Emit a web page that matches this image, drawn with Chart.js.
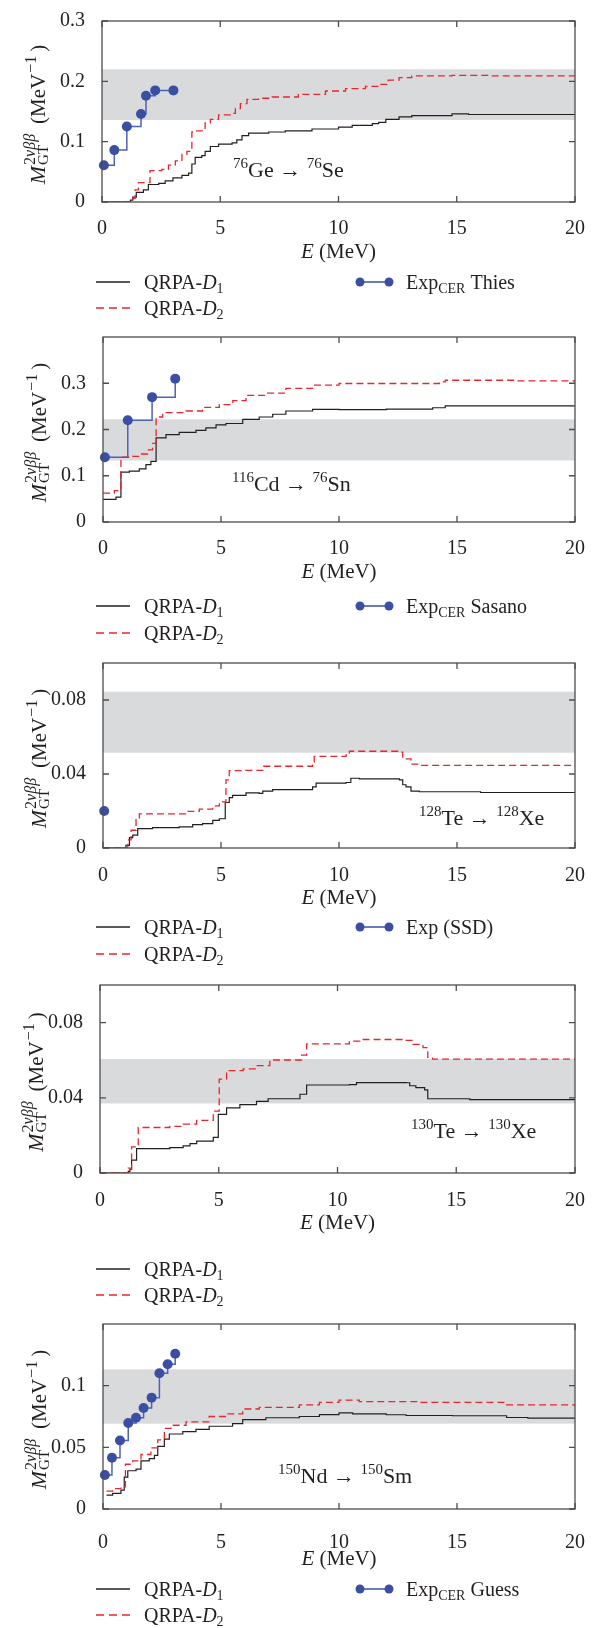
<!DOCTYPE html>
<html>
<head>
<meta charset="utf-8">
<script src="https://cdn.jsdelivr.net/npm/chart.js@4.4.1/dist/chart.umd.min.js"></script>
<style>
  body { margin: 0; background: #fff; }
  #page { position: relative; width: 605px; height: 1628px; }
  canvas { position: absolute; left: 0; }
</style>
</head>
<body>
<div id="page"></div>
<script>
// ---- data: [E (MeV), cumulative M_GT (MeV^-1)] ----
const ge76D1 = [[0,0],[1.0,0],[1.2,0.003],[1.3,0.008],[1.45,0.016],[1.75,0.02],[1.96,0.029],[2.4,0.031],[2.67,0.035],[3.0,0.04],[3.38,0.044],[3.66,0.048],[3.8,0.063],[3.94,0.074],[4.22,0.077],[4.36,0.084],[4.58,0.092],[4.93,0.096],[5.5,0.098],[5.7,0.103],[5.92,0.11],[6.2,0.114],[7.05,0.116],[7.75,0.118],[8.88,0.121],[10.0,0.124],[10.58,0.127],[11.43,0.13],[11.7,0.132],[12.0,0.137],[12.56,0.141],[13.1,0.143],[14.8,0.146],[15.5,0.145],[20,0.145]];
const ge76D2 = [[0,0],[1.2,0],[1.3,0.006],[1.4,0.02],[1.54,0.032],[2.03,0.052],[2.53,0.054],[2.81,0.061],[3.1,0.068],[3.38,0.079],[3.59,0.084],[3.8,0.116],[4.0,0.118],[4.36,0.131],[4.58,0.137],[4.93,0.1445],[5.42,0.147],[5.64,0.155],[5.85,0.163],[6.13,0.17],[6.62,0.172],[7.2,0.174],[8.3,0.1785],[9.45,0.184],[10.3,0.188],[11.14,0.1915],[11.7,0.195],[12.1,0.202],[12.56,0.206],[13.1,0.209],[14.8,0.21],[16.5,0.209],[20,0.208]];
const ge76Exp = [[0.08,0.061],[0.52,0.086],[1.05,0.125],[1.65,0.146],[1.86,0.176],[2.25,0.185],[3.02,0.185]];
const ge76Band = [0.136, 0.220];
const ge76YTicks = [0, 0.1, 0.2, 0.3];

const cd116D1 = [[0,0.049],[0.55,0.054],[0.76,0.108],[1.12,0.11],[1.54,0.115],[1.82,0.124],[2.03,0.131],[2.25,0.182],[2.67,0.189],[3.23,0.194],[3.94,0.198],[4.36,0.2035],[4.79,0.21],[5.21,0.213],[5.92,0.222],[6.62,0.227],[7.19,0.233],[7.75,0.24],[8.88,0.2435],[10.0,0.243],[12.0,0.244],[13.97,0.247],[14.5,0.251],[20,0.25]];
const cd116D2 = [[0,0.0625],[0.48,0.068],[0.76,0.14],[1.26,0.142],[1.54,0.147],[1.89,0.156],[2.1,0.17],[2.25,0.227],[2.53,0.2365],[3.52,0.24],[4.22,0.248],[4.93,0.254],[5.5,0.2625],[6.06,0.274],[6.9,0.2785],[7.75,0.289],[8.88,0.296],[10.0,0.2995],[14.25,0.303],[14.5,0.3065],[17.5,0.305],[20,0.303]];
const cd116Exp = [[0.08,0.14],[1.05,0.22],[2.08,0.27],[3.06,0.31]];
const cd116Band = [0.133, 0.222];
const cd116YTicks = [0, 0.1, 0.2, 0.3];

const te128D1 = [[0,0],[0.83,0],[0.97,0.0014],[1.12,0.0056],[1.26,0.007],[1.47,0.0105],[2.1,0.011],[3.23,0.0114],[3.8,0.0126],[4.22,0.0132],[4.65,0.0149],[4.93,0.0158],[5.18,0.0246],[5.35,0.0272],[5.49,0.0284],[6.06,0.0298],[6.62,0.0295],[6.77,0.0307],[7.19,0.0316],[8.88,0.033],[9.03,0.0351],[10.3,0.0354],[10.5,0.0377],[10.86,0.0374],[12.56,0.0368],[12.7,0.0342],[12.84,0.033],[13.05,0.0307],[13.4,0.0304],[16,0.03],[20,0.03]];
const te128D2 = [[0,0],[0.9,0],[1.05,0.0044],[1.19,0.0096],[1.4,0.0163],[1.54,0.0184],[3.5,0.0198],[4.08,0.021],[4.65,0.0228],[4.93,0.0249],[5.21,0.0368],[5.35,0.0418],[5.92,0.042],[6.77,0.0442],[8.88,0.0465],[8.95,0.0495],[10.3,0.0503],[10.44,0.0523],[12.56,0.0518],[12.7,0.0482],[13.05,0.0453],[13.4,0.0447],[20,0.044]];
const te128Exp = [[0.05,0.02]];
const te128Band = [0.0515, 0.0845];
const te128YTicks = [0, 0.04, 0.08];

const te130D1 = [[0,0],[1.05,0],[1.19,0.0009],[1.26,0.002],[1.33,0.0069],[1.54,0.013],[2.94,0.0135],[3.5,0.0144],[3.79,0.0156],[4.07,0.017],[4.77,0.019],[4.98,0.0312],[5.33,0.0346],[5.89,0.0364],[6.59,0.0381],[7.08,0.0395],[8.42,0.0419],[8.7,0.0468],[10.5,0.047],[10.8,0.0481],[12.9,0.048],[13.04,0.0464],[13.3,0.0454],[13.67,0.0442],[13.8,0.0395],[15.57,0.039],[20,0.0392]];
const te130D2 = [[0,0],[1.05,0],[1.19,0.0026],[1.33,0.0139],[1.61,0.0242],[2.94,0.0248],[3.5,0.026],[4.07,0.028],[4.77,0.0329],[5.02,0.0499],[5.33,0.0545],[6.03,0.0554],[6.59,0.0571],[7.15,0.0601],[8.49,0.0627],[8.7,0.0687],[10.5,0.0701],[10.94,0.071],[12.76,0.0705],[13.18,0.0684],[13.6,0.0667],[13.8,0.0615],[14.0,0.0606],[20,0.06]];
const te130Band = [0.037, 0.0606];
const te130YTicks = [0, 0.04, 0.08];

const nd150D1 = [[0.15,0.0113],[0.41,0.0126],[0.76,0.0153],[0.9,0.0258],[1.05,0.031],[1.4,0.0324],[1.61,0.039],[1.96,0.0408],[2.18,0.0434],[2.32,0.0508],[2.6,0.0566],[2.81,0.0608],[3.38,0.0627],[3.94,0.0645],[4.5,0.0671],[5.49,0.0692],[5.92,0.0724],[6.9,0.074],[8.32,0.075],[9.17,0.0766],[10.0,0.0779],[10.58,0.0771],[12.0,0.0764],[12.84,0.0758],[14.8,0.0756],[17.1,0.0742],[18.0,0.0737],[20,0.0737]];
const nd150D2 = [[0.15,0.0145],[0.41,0.0166],[0.76,0.0179],[0.95,0.0363],[1.26,0.039],[1.61,0.0442],[2.03,0.0495],[2.32,0.0561],[2.6,0.0653],[2.88,0.0679],[3.52,0.0706],[4.5,0.075],[5.21,0.0771],[5.92,0.0811],[6.62,0.0824],[8.32,0.0845],[9.17,0.0864],[10.0,0.0882],[10.86,0.0871],[13.4,0.0864],[17.1,0.0845],[20,0.0832]];
const nd150Exp = [[0.08,0.0276],[0.38,0.0416],[0.72,0.0556],[1.07,0.0698],[1.4,0.074],[1.72,0.0819],[2.06,0.0903],[2.39,0.11],[2.74,0.1174],[3.06,0.1259]];
const nd150Band = [0.0692, 0.1132];
const nd150YTicks = [0, 0.05, 0.1];

const xTickLabels = [0, 5, 10, 15, 20];

// reaction labels: [A, parent, A, daughter]
const ge76Reaction = ['76', 'Ge', '76', 'Se'];
const cd116Reaction = ['116', 'Cd', '76', 'Sn'];
const te128Reaction = ['128', 'Te', '128', 'Xe'];
const te130Reaction = ['130', 'Te', '130', 'Xe'];
const nd150Reaction = ['150', 'Nd', '150', 'Sm'];

const SERIF = '"Liberation Serif", "DejaVu Serif", serif';
const INK = '#231f20';
const RED = '#e8262d';
const BLUE = '#3a4fa3';

// page layout (absolute page px)
const panels = [
  { top: 0,    h: 326, L: 102, R: 575, T: 11,   B: 202,  yMax: 0.3,  yStep: 0.05,  yTicks: ge76YTicks,  d1: ge76D1,  d2: ge76D2,  exp: ge76Exp,  band: ge76Band,  reaction: ge76Reaction,  annX: 233, annY: 177,  expLabel: ['Exp', 'CER', ' Thies'],  legY: [282, 308], xPad: 7 },
  { top: 316,  h: 336, L: 103, R: 575, T: 332,  B: 522,  yMax: 0.4,  yStep: 0.05,  yTicks: cd116YTicks, d1: cd116D1, d2: cd116D2, exp: cd116Exp, band: cd116Band, reaction: cd116Reaction, annX: 232, annY: 491,  expLabel: ['Exp', 'CER', ' Sasano'], legY: [606, 633], xPad: 7 },
  { top: 642,  h: 330, L: 103, R: 575, T: 658,  B: 848,  yMax: 0.1,  yStep: 0.02,  yTicks: te128YTicks, d1: te128D1, d2: te128D2, exp: te128Exp, band: te128Band, reaction: te128Reaction, annX: 419, annY: 825,  expLabel: ['Exp (SSD)', '', ''],      legY: [927, 954], xPad: 8 },
  { top: 964,  h: 346, L: 100, R: 575, T: 980,  B: 1173, yMax: 0.1,  yStep: 0.02,  yTicks: te130YTicks, d1: te130D1, d2: te130D2, exp: null,     band: te130Band, reaction: te130Reaction, annX: 411, annY: 1138, expLabel: null,                      legY: [1269, 1295], xPad: 8 },
  { top: 1303, h: 325, L: 103, R: 575, T: 1319, B: 1509, yMax: 0.15, yStep: 0.025, yTicks: nd150YTicks, d1: nd150D1, d2: nd150D2, exp: nd150Exp, band: nd150Band, reaction: nd150Reaction, annX: 278, annY: 1483, expLabel: ['Exp', 'CER', ' Guess'],  legY: [1589, 1615], xPad: 14 }
];

const toXY = (pairs) => pairs.map(([x, y]) => ({ x, y }));

// draw a run of text pieces; piece = {t, s, it, dy, gap, stackStart, stackBack}
const drawRich = (ctx, x, y, parts, measureOnly) => {
  let cx = x;
  let stackX = x;
  let stackEnd = x;
  for (const p of parts) {
    ctx.font = (p.it ? 'italic ' : '') + p.s + 'px ' + SERIF;
    cx += p.gap || 0;
    if (p.stackStart) stackX = cx;
    if (p.stackBack) { stackEnd = cx; cx = stackX; }
    const w = ctx.measureText(p.t).width;
    if (!measureOnly) ctx.fillText(p.t, cx, y + (p.dy || 0));
    cx += w;
    if (p.stackBack) cx = Math.max(cx, stackEnd);
  }
  return cx - x;
};

const yTitleParts = [
  { t: 'M', s: 22, it: true },
  { t: '2', s: 16, dy: -10, gap: 1, stackStart: true },
  { t: 'νββ', s: 16, it: true, dy: -10 },
  { t: 'GT', s: 15, dy: 3, stackBack: true },
  { t: '(MeV', s: 21, gap: 10 },
  { t: '−1', s: 16, dy: -9, gap: 1 },
  { t: ')', s: 21, gap: 4 }
];

const decor = (p) => ({
  id: 'decor',
  beforeDatasetsDraw(chart) {
    const { ctx, chartArea: a, scales: { y } } = chart;
    const y1 = y.getPixelForValue(p.band[1]);
    const y0 = y.getPixelForValue(p.band[0]);
    ctx.save();
    ctx.fillStyle = '#d9dadc';
    ctx.fillRect(a.left, y1, a.right - a.left, y0 - y1);
    ctx.restore();
  },
  afterDatasetsDraw(chart) {
    const { ctx, chartArea: a, scales: { x, y } } = chart;
    ctx.save();
    ctx.strokeStyle = '#4d4d4f';
    ctx.lineWidth = 1.3;
    ctx.strokeRect(a.left, a.top, a.right - a.left, a.bottom - a.top);
    const tl = 6;
    ctx.beginPath();
    x.ticks.forEach((t) => {
      const px = x.getPixelForValue(t.value);
      ctx.moveTo(px, a.bottom); ctx.lineTo(px, a.bottom - tl);
      ctx.moveTo(px, a.top); ctx.lineTo(px, a.top + tl);
    });
    y.ticks.forEach((t) => {
      const py = y.getPixelForValue(t.value);
      ctx.moveTo(a.left, py); ctx.lineTo(a.left + tl, py);
      ctx.moveTo(a.right, py); ctx.lineTo(a.right - tl, py);
    });
    ctx.stroke();
    ctx.restore();
  },
  afterDraw(chart) {
    const { ctx, chartArea: a } = chart;
    const off = p.top;
    ctx.save();
    ctx.fillStyle = INK;
    ctx.textBaseline = 'alphabetic';

    // y title (rotated)
    ctx.save();
    ctx.translate(a.left - 57, (a.top + a.bottom) / 2 + 3);
    ctx.rotate(-Math.PI / 2);
    const tw = drawRich(ctx, 0, 0, yTitleParts, true);
    drawRich(ctx, -tw / 2, 0, yTitleParts, false);
    ctx.restore();

    // x title
    const xParts = [{ t: 'E', s: 21, it: true }, { t: ' (MeV)', s: 21 }];
    const xw = drawRich(ctx, 0, 0, xParts, true);
    drawRich(ctx, (a.left + a.right) / 2 - xw / 2, a.bottom + 56, xParts, false);

    // reaction annotation
    const [A1, n1, A2, n2] = p.reaction;
    drawRich(ctx, p.annX, p.annY - off, [
      { t: A1, s: 15, dy: -9 }, { t: n1 + ' → ', s: 22 },
      { t: A2, s: 15, dy: -9 }, { t: n2, s: 22 }
    ], false);

    // legend
    const r1 = p.legY[0] - off;
    const r2 = p.legY[1] - off;
    ctx.lineWidth = 1.3;
    ctx.strokeStyle = INK;
    ctx.beginPath(); ctx.moveTo(96, r1); ctx.lineTo(130, r1); ctx.stroke();
    ctx.strokeStyle = RED;
    ctx.setLineDash([8, 5]);
    ctx.beginPath(); ctx.moveTo(96, r2); ctx.lineTo(130, r2); ctx.stroke();
    ctx.setLineDash([]);
    drawRich(ctx, 144, r1 + 7, [{ t: 'QRPA-', s: 20 }, { t: 'D', s: 20, it: true }, { t: '1', s: 14, dy: 4 }], false);
    drawRich(ctx, 144, r2 + 7, [{ t: 'QRPA-', s: 20 }, { t: 'D', s: 20, it: true }, { t: '2', s: 14, dy: 4 }], false);
    if (p.expLabel) {
      ctx.strokeStyle = BLUE;
      ctx.lineWidth = 1.5;
      ctx.beginPath(); ctx.moveTo(360, r1); ctx.lineTo(389, r1); ctx.stroke();
      ctx.fillStyle = BLUE;
      [360, 389].forEach((cx) => { ctx.beginPath(); ctx.arc(cx, r1, 4.5, 0, Math.PI * 2); ctx.fill(); });
      ctx.fillStyle = INK;
      const [e0, e1, e2] = p.expLabel;
      drawRich(ctx, 406, r1 + 7, [{ t: e0, s: 20 }, { t: e1, s: 14, dy: 4 }, { t: e2, s: 20 }], false);
    }
    ctx.restore();
  }
});

const page = document.getElementById('page');

panels.forEach((p) => {
  const canvas = document.createElement('canvas');
  canvas.width = 605;
  canvas.height = p.h;
  canvas.style.top = p.top + 'px';
  canvas.style.width = '605px';
  canvas.style.height = p.h + 'px';
  page.appendChild(canvas);

  const datasets = [
    { data: toXY(p.d2), borderColor: RED, borderDash: [7, 4], borderWidth: 1.3, pointRadius: 0, stepped: true, fill: false },
    { data: toXY(p.d1), borderColor: INK, borderWidth: 1.2, pointRadius: 0, stepped: true, fill: false }
  ];
  if (p.exp) {
    datasets.push({
      data: toXY(p.exp), borderColor: '#4d63b3', borderWidth: 1.5, stepped: true,
      pointRadius: 5, pointBackgroundColor: BLUE, pointBorderWidth: 0, clip: false
    });
  }

  new Chart(canvas, {
    type: 'line',
    data: { datasets },
    options: {
      responsive: false,
      animation: false,
      devicePixelRatio: 1,
      layout: { padding: { left: 0, right: 605 - p.R, top: p.T - p.top, bottom: 0 } },
      plugins: { legend: { display: false }, tooltip: { enabled: false } },
      scales: {
        x: {
          type: 'linear', min: 0, max: 20,
          grid: { display: false }, border: { display: false },
          ticks: {
            stepSize: 2.5, autoSkip: false, maxRotation: 0, padding: p.xPad, color: INK,
            font: { family: SERIF, size: 20 },
            callback: (v) => (xTickLabels.includes(v) ? String(v) : null)
          },
          afterFit: (s) => { s.height = p.h - (p.B - p.top); }
        },
        y: {
          type: 'linear', min: 0, max: p.yMax,
          grid: { display: false }, border: { display: false },
          ticks: {
            stepSize: p.yStep, autoSkip: false, padding: 9, color: INK,
            font: { family: SERIF, size: 20 },
            callback: (v) => {
              const hit = p.yTicks.find((t) => Math.abs(t - v) < 1e-6);
              return hit === undefined ? null : String(hit);
            }
          },
          afterFit: (s) => { s.width = p.L; }
        }
      }
    },
    plugins: [decor(p)]
  });
});
</script>
</body>
</html>
